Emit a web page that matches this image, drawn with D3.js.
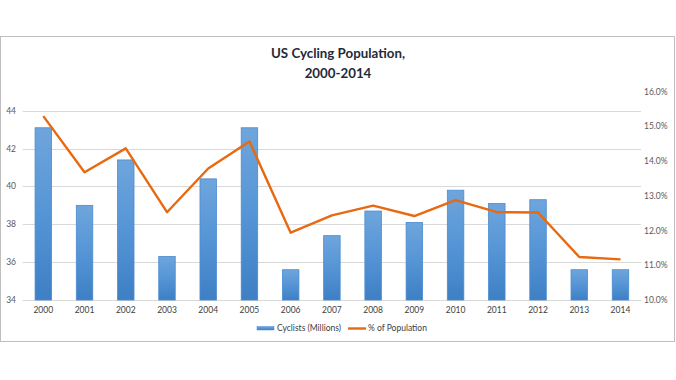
<!DOCTYPE html>
<html>
<head>
<meta charset="utf-8">
<script src="https://cdn.jsdelivr.net/npm/d3@7"></script>
<style>
  html, body { margin: 0; padding: 0; background: #fff; }
  svg { display: block; }
  text { font-family: Lato, "Open Sans", sans-serif; }
</style>
</head>
<body>
<svg id="chart" width="676" height="380"></svg>
<script>
const years = ["2000","2001","2002","2003","2004","2005","2006","2007","2008","2009","2010","2011","2012","2013","2014"];
const cyclists = [43.1, 39.0, 41.4, 36.3, 40.4, 43.1, 35.6, 37.4, 38.7, 38.1, 39.8, 39.1, 39.3, 35.6, 35.6];
const pctPopulation = [15.3, 13.68, 14.37, 12.53, 13.79, 14.57, 11.94, 12.44, 12.72, 12.42, 12.88, 12.53, 12.52, 11.24, 11.17];
const leftTicks = [34, 36, 38, 40, 42, 44];
const rightTicks = [10, 11, 12, 13, 14, 15, 16];
const titleLines = ["US Cycling Population,", "2000-2014"];
const legendLabels = ["Cyclists (Millions)", "% of Population"];

const svg = d3.select("#chart");

// frame
svg.append("rect").attr("x", 0.5).attr("y", 36.5).attr("width", 674).attr("height", 305)
  .attr("fill", "#fff").attr("stroke", "#bfbfbf").attr("stroke-width", 1);

const defs = svg.append("defs");
const grad = defs.append("linearGradient").attr("id", "barGrad")
  .attr("x1", 0).attr("y1", 0).attr("x2", 0).attr("y2", 1);
grad.append("stop").attr("offset", "0%").attr("stop-color", "#6fa5dc");
grad.append("stop").attr("offset", "50%").attr("stop-color", "#5595d6");
grad.append("stop").attr("offset", "100%").attr("stop-color", "#3e7fc5");

const x = d3.scaleBand().domain(years).range([22.7, 641.1]).paddingInner(0.6).paddingOuter(0.3);
const yL = d3.scaleLinear().domain([34, 45]).range([300, 91.8]);
const yR = d3.scaleLinear().domain([10, 16]).range([300, 91.8]);

// gridlines
svg.append("g").selectAll("line").data(leftTicks).join("line")
  .attr("x1", 22.7).attr("x2", 641.1)
  .attr("y1", d => Math.round(yL(d)) + 0.5).attr("y2", d => Math.round(yL(d)) + 0.5)
  .attr("stroke", "#d9d9d9").attr("stroke-width", 1);

// left labels
svg.append("g").selectAll("text").data(leftTicks).join("text")
  .attr("x", 16).attr("y", d => yL(d)).attr("dy", "0.35em")
  .attr("text-anchor", "end").attr("font-size", 8.5).attr("fill", "#595959")
  .text(d => d);

// right labels
svg.append("g").selectAll("text").data(rightTicks).join("text")
  .attr("x", 644).attr("y", d => yR(d)).attr("dy", "0.35em")
  .attr("text-anchor", "start").attr("font-size", 8.5).attr("fill", "#595959")
  .text(d => d.toFixed(1) + "%");

// x labels
svg.append("g").selectAll("text").data(years).join("text")
  .attr("x", d => x(d) + x.bandwidth() / 2).attr("y", 313)
  .attr("text-anchor", "middle").attr("font-size", 8.5).attr("fill", "#404040")
  .text(d => d);

// bars
svg.append("g").selectAll("rect").data(years).join("rect")
  .attr("x", d => x(d)).attr("width", x.bandwidth())
  .attr("y", (d, i) => yL(cyclists[i]))
  .attr("height", (d, i) => yL(34) - yL(cyclists[i]))
  .attr("fill", "url(#barGrad)").attr("stroke", "#4a8bd0").attr("stroke-width", 0.8);

// line
const line = d3.line()
  .x((d, i) => x(years[i]) + x.bandwidth() / 2)
  .y(d => yR(d));
svg.append("path").datum(pctPopulation).attr("d", line)
  .attr("fill", "none").attr("stroke", "#e8690f").attr("stroke-width", 2.4)
  .attr("stroke-linejoin", "round");

// title
svg.append("g").selectAll("text").data(titleLines).join("text")
  .attr("x", 338).attr("y", (d, i) => 58 + i * 19.5)
  .attr("text-anchor", "middle").attr("font-size", 13.3).attr("font-weight", "bold")
  .attr("fill", "#1f2a3a").text(d => d);

// legend
const lg = svg.append("g");
lg.append("rect").attr("x", 257).attr("y", 326.5).attr("width", 17).attr("height", 3.5)
  .attr("fill", "url(#barGrad)").attr("stroke", "#4a8bd0").attr("stroke-width", 0.5);
lg.append("text").attr("x", 277).attr("y", 328).attr("dy", "0.35em")
  .attr("font-size", 8.5).attr("fill", "#404040").text(legendLabels[0]);
lg.append("line").attr("x1", 348).attr("x2", 366).attr("y1", 328.5).attr("y2", 328.5)
  .attr("stroke", "#e8690f").attr("stroke-width", 2.4);
lg.append("text").attr("x", 368).attr("y", 328).attr("dy", "0.35em")
  .attr("font-size", 8.5).attr("fill", "#404040").text(legendLabels[1]);
</script>
</body>
</html>
